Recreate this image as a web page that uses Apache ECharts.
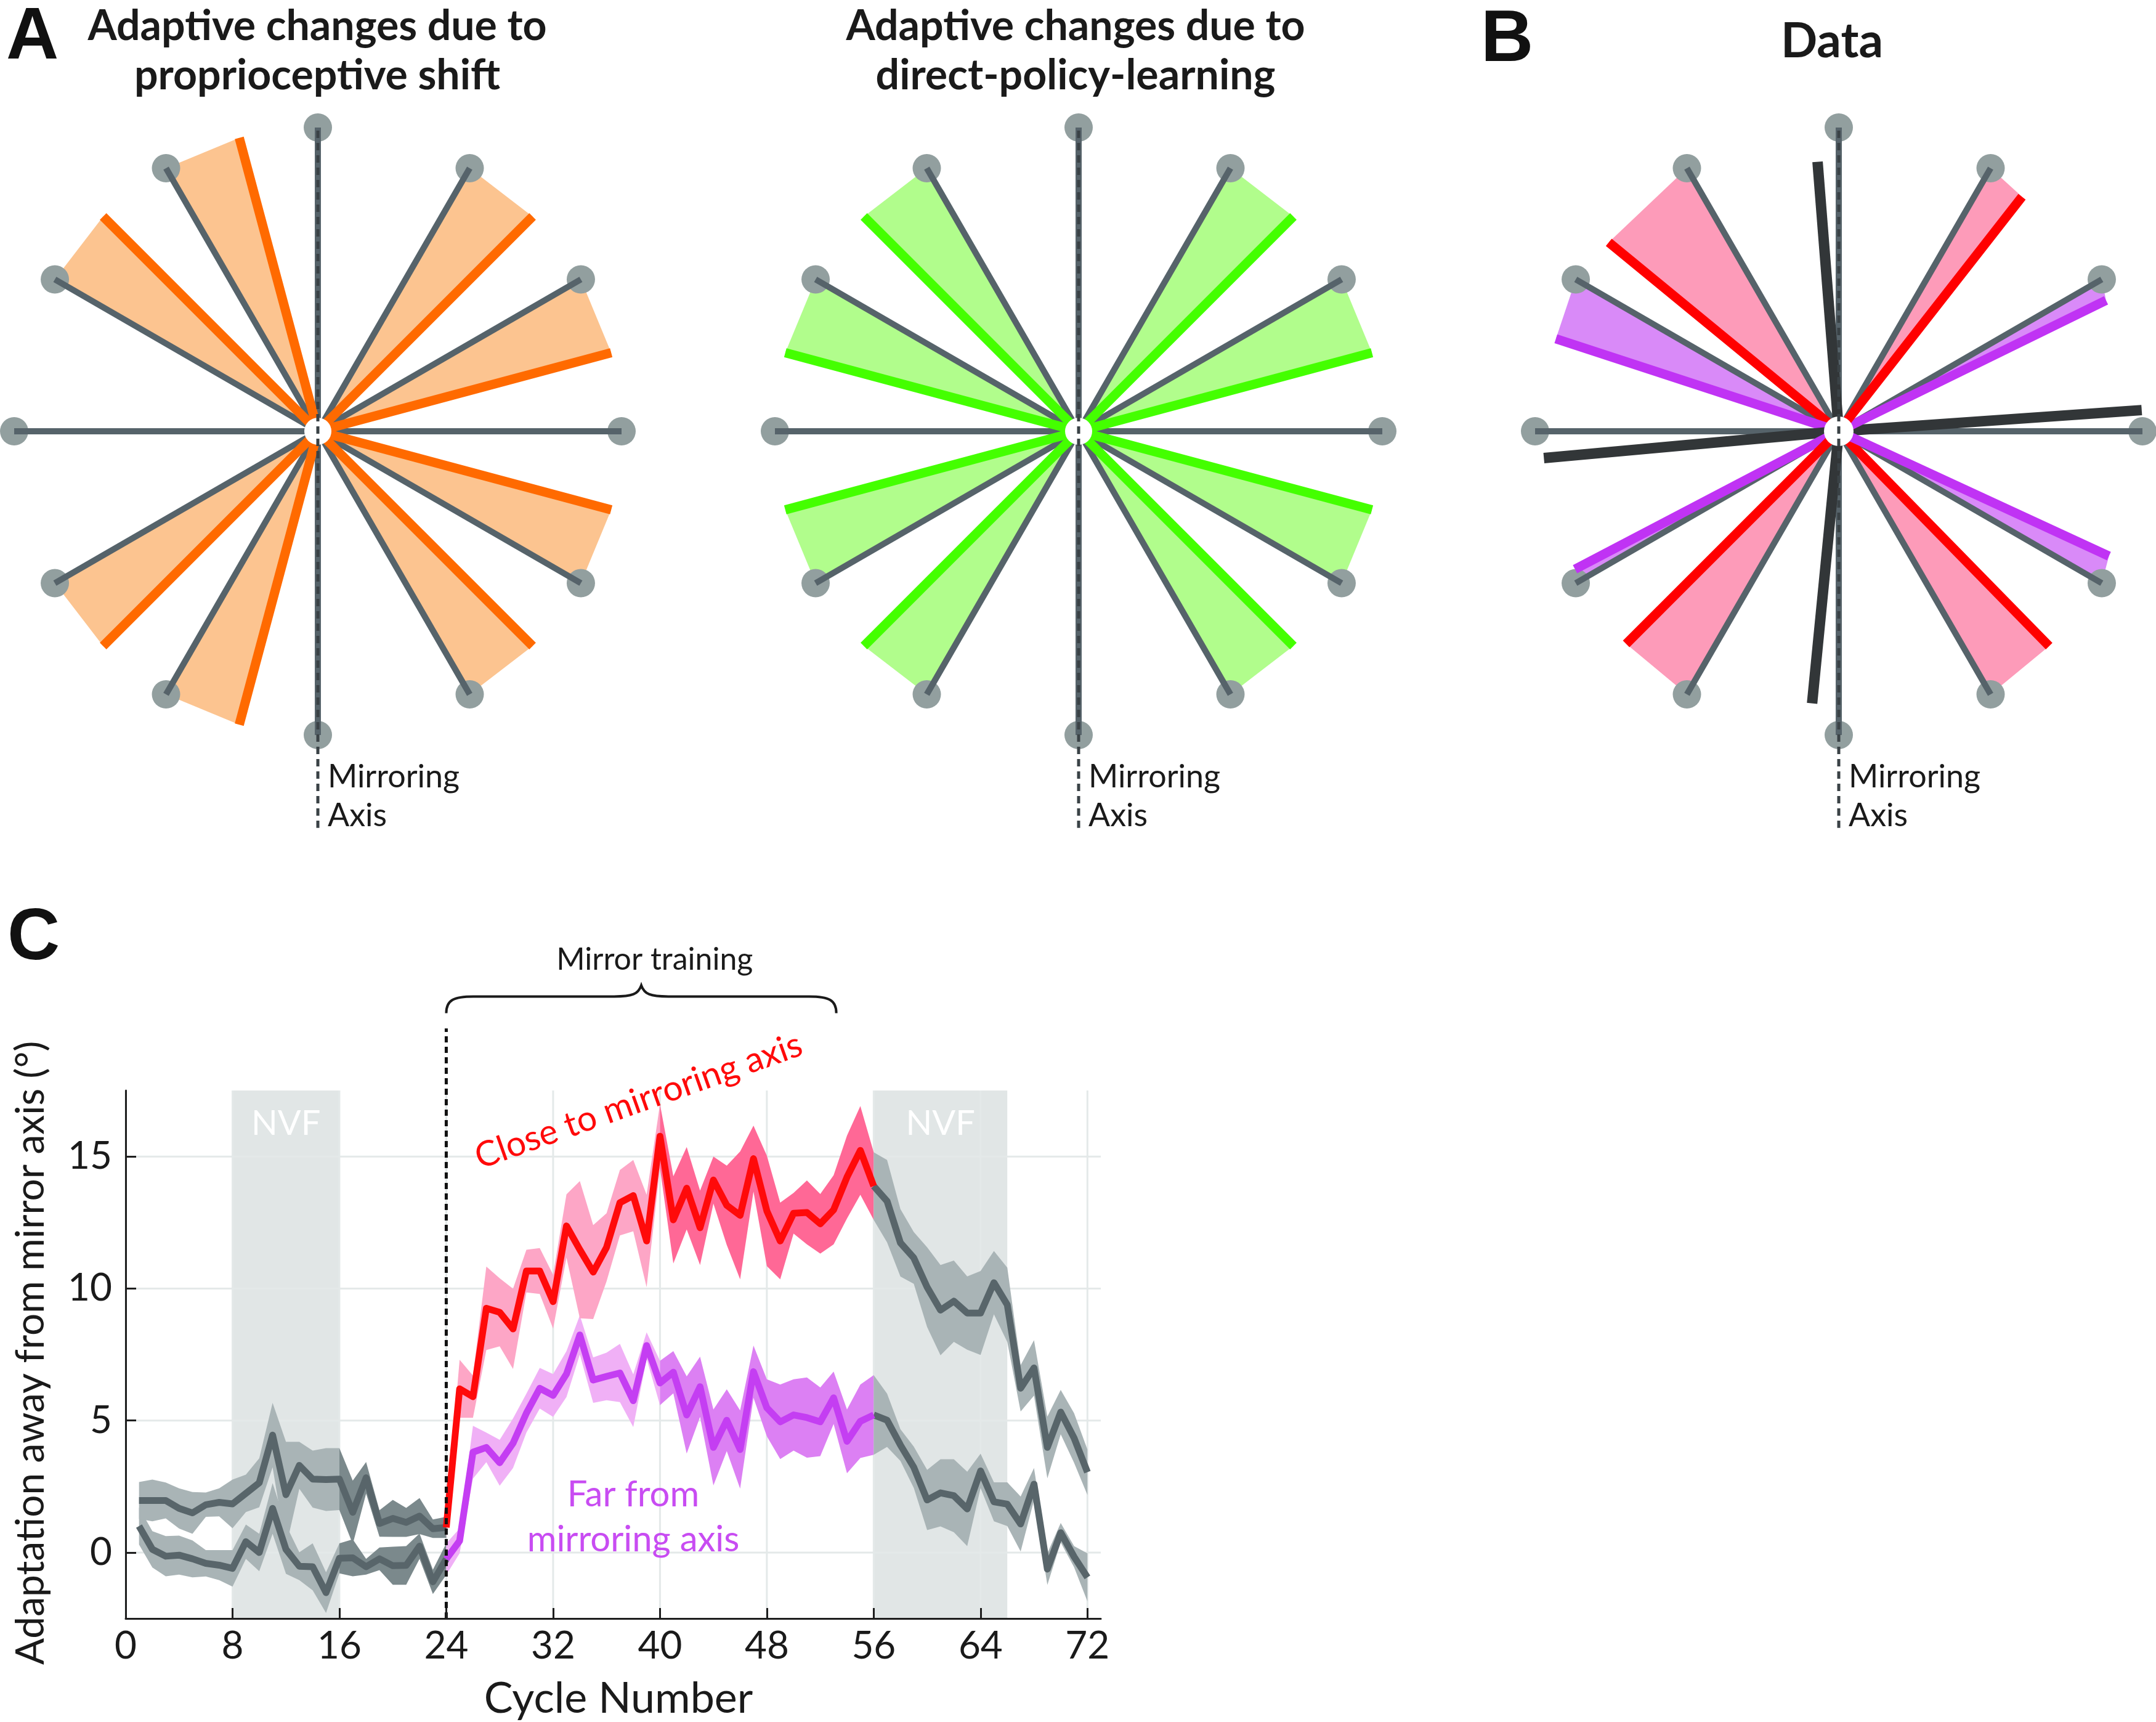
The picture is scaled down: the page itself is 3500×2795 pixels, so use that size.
<!DOCTYPE html>
<html>
<head>
<meta charset="utf-8">
<script src="https://cdn.jsdelivr.net/npm/echarts@6/dist/echarts.min.js"></script>
<style>
html,body{margin:0;padding:0;background:#ffffff;}
#chart{width:3500px;height:2795px;}
</style>
</head>
<body>
<div id="chart"></div>
<script>
// ---------------- DATA ----------------
// Panels A/B: target directions (deg) and adapted directions
const targetAngles = [0, 30, 60, 90, 120, 150, 180, 210, 240, 270, 300, 330];
// A (left): adaptive changes due to proprioceptive shift
const proprioAngles = [null, 15, 45, null, 105, 135, null, 225, 255, null, 315, 345];
// A (right): adaptive changes due to direct-policy-learning
const policyAngles = [null, 15, 45, null, 135, 165, null, 195, 225, null, 315, 345];
// B: measured data
const dataAngles = [4.0, 26.1, 52.0, 94.5, 140.6, 161.9, 185.2, 207.6, 225.0, 264.4, 314.4, 335.2];
const dataRadii  = [1.0, 0.98, 0.98, 0.89, 0.98, 0.98, 0.975, 0.98, 0.99, 0.90, 0.99, 0.98];
const dataGroups = ['on', 'far', 'close', 'on', 'close', 'far', 'on', 'far', 'close', 'on', 'close', 'far'];

// Panel C
const cycles = [1,2,3,4,5,6,7,8,9,10,11,12,13,14,15,16,17,18,19,20,21,22,23,24,
  25,26,27,28,29,30,31,32,33,34,35,36,37,38,39,40,41,42,43,44,45,46,47,48,
  49,50,51,52,53,54,55,56,57,58,59,60,61,62,63,64,65,66,67,68,69,70,71,72];
const closeMean = [1.97,1.97,1.97,1.67,1.50,1.81,1.90,1.84,2.24,2.64,4.45,2.19,3.30,2.78,2.76,2.78,1.52,2.83,1.10,1.29,1.14,1.38,0.90,0.95,
  6.20,5.90,9.25,9.10,8.47,10.66,10.66,9.50,12.37,11.47,10.62,11.56,13.25,13.52,11.80,15.77,12.60,13.80,12.30,
  14.11,13.15,12.77,14.92,12.94,11.80,12.85,12.88,12.45,12.98,14.22,15.23,13.88,
  13.31,11.73,11.16,10.05,9.18,9.52,9.07,9.07,10.22,9.38,6.22,6.99,3.98,5.32,4.34,3.04];
const closeErr = [0.70,0.79,0.68,0.76,0.79,0.46,0.53,0.92,0.71,0.93,1.22,2.00,0.89,1.08,1.19,1.17,1.20,0.60,0.50,0.70,0.55,0.68,0.35,0.40,
  1.10,0.80,1.58,1.29,1.52,0.81,0.87,1.02,1.20,2.60,1.78,1.29,1.24,1.35,1.75,1.21,1.65,1.56,1.41,
  0.89,1.50,2.42,1.25,2.09,1.45,0.77,1.21,1.13,1.31,1.57,1.68,1.28,
  1.56,1.28,0.98,1.51,1.71,1.54,1.39,1.59,1.20,1.41,0.88,1.05,1.17,0.84,0.94,0.86];
const farMean = [1.00,0.12,-0.14,-0.10,-0.24,-0.41,-0.48,-0.60,0.41,0.00,1.67,0.12,-0.52,-0.54,-1.52,-0.22,-0.20,-0.54,-0.24,-0.50,-0.49,0.24,-1.11,-0.25,
  0.44,3.80,3.98,3.40,4.14,5.28,6.22,5.95,6.76,8.24,6.53,6.67,6.80,5.75,7.84,6.42,6.83,5.21,6.28,
  3.98,5.01,3.90,6.85,5.48,4.95,5.21,5.11,4.95,5.86,4.21,4.97,5.21,
  5.01,4.07,3.23,1.99,2.26,2.15,1.65,3.09,1.92,1.83,1.08,2.59,-0.63,0.75,-0.16,-0.94];
const farErr = [0.70,0.69,0.76,0.74,0.70,0.50,0.57,0.69,0.65,0.71,0.96,0.93,0.53,0.89,0.77,0.57,0.70,0.30,0.43,0.72,0.73,0.48,0.46,0.60,
  0.47,1.00,0.56,0.87,0.94,0.74,0.77,0.81,0.87,0.74,0.86,0.90,1.10,1.00,0.50,0.84,0.80,1.46,1.14,
  1.44,1.17,1.48,0.99,1.08,1.41,1.35,1.52,1.30,0.99,1.21,1.39,1.51,
  1.01,0.60,0.78,1.14,1.27,1.38,1.41,0.65,0.74,0.83,1.04,0.61,0.60,0.37,0.40,0.91];
const xTicks = [0, 8, 16, 24, 32, 40, 48, 56, 64, 72];
const yTicks = [0, 5, 10, 15];
const nvfPeriods = [[8, 16], [56, 66]];
const baselineCycles = [1, 24];
const mirrorCycles = [24, 56];
const washoutCycles = [56, 72];
// band segments: [from, to, shade] (shade 0 = light, 1 = dark)
const bandSegments = [[1, 16, 0], [16, 24, 1], [24, 40, 0], [40, 56, 1], [56, 72, 0]];

// ---------------- STYLE ----------------
const SANS = "Lato, 'Open Sans', 'Noto Sans', sans-serif";
const HEAD = "'Liberation Sans', Arial, sans-serif";
const R = 493;
const PANEL_CENTERS = [[516, 700], [1751, 700], [2985, 700]];
const DOT = '#929f9f', SPOKE = '#56636a';

const panelStyles = [
  { fills: ['#fcc490'], lines: ['#ff6a00'], widths: [15] },
  { fills: ['#b1fd8c'], lines: ['#44ff00'], widths: [15] },
  { fills: ['#fd9bb9', '#d98af8', null], lines: ['#ff0000', '#c033f4', '#323638'], widths: [15, 15, 17] }
];
const groupIndex = { close: 0, far: 1, on: 2 };

function panelRows(p) {
  const rows = [];
  targetAngles.forEach((t, i) => {
    if (p === 0 && proprioAngles[i] != null) rows.push([t, proprioAngles[i], 1, 0]);
    if (p === 1 && policyAngles[i] != null) rows.push([t, policyAngles[i], 1, 0]);
    if (p === 2) rows.push([t, dataAngles[i], dataRadii[i], groupIndex[dataGroups[i]]]);
  });
  return rows;
}
function polar(api, deg, r) {
  const a = deg * Math.PI / 180;
  return api.coord([r * Math.cos(a), r * Math.sin(a)]);
}

const grids = PANEL_CENTERS.map(([cx, cy]) => ({ left: cx - R, top: cy - R, width: 2 * R, height: 2 * R, outerBoundsMode: 'none' }))
  .concat([{ left: 204, top: 1770, width: 1583, height: 857, outerBoundsMode: 'none' }]);

const hiddenAxis = (i) => ({ type: 'value', gridIndex: i, min: -1, max: 1, show: false });
const AX = '#1e1e1e';
const xAxes = [hiddenAxis(0), hiddenAxis(1), hiddenAxis(2), {
  type: 'value', gridIndex: 3, min: 0, max: 73, interval: 8, z: 10,
  axisLine: { show: true, onZero: false, lineStyle: { color: AX, width: 3 } },
  axisTick: { show: true, inside: true, length: 17, customValues: xTicks, lineStyle: { color: AX, width: 3 } },
  axisLabel: { customValues: xTicks, margin: 45, verticalAlign: 'middle', fontSize: 62, fontFamily: SANS, color: '#1a1a1a',
    formatter: v => (v % 8 === 0 ? String(v) : '') },
  splitLine: { show: false }
}];
const yAxes = [hiddenAxis(0), hiddenAxis(1), hiddenAxis(2), {
  type: 'value', gridIndex: 3, min: -2.5, max: 17.5, z: 10,
  axisLine: { show: true, onZero: false, lineStyle: { color: AX, width: 3 } },
  axisTick: { show: true, inside: true, length: 17, customValues: yTicks, lineStyle: { color: AX, width: 3 } },
  axisLabel: { customValues: yTicks, margin: 22, fontSize: 62, fontFamily: SANS, color: '#1a1a1a',
    formatter: v => (v % 5 === 0 ? String(v) : '') },
  splitLine: { show: false }
}];

const series = [];

// ---------- radial panels ----------
[0, 1, 2].forEach(p => {
  const st = panelStyles[p];
  const rows = panelRows(p);
  const base = { xAxisIndex: p, yAxisIndex: p, coordinateSystem: 'cartesian2d', silent: true, clip: false, type: 'custom' };
  // wedges
  series.push(Object.assign({}, base, {
    z: 1, data: rows,
    renderItem: (params, api) => {
      const fill = st.fills[api.value(3)];
      if (!fill) return null;
      return { type: 'polygon', shape: { points: [api.coord([0, 0]), polar(api, api.value(0), 1), polar(api, api.value(1), api.value(2))] },
        style: { fill: fill } };
    }
  }));
  // target dots
  series.push(Object.assign({}, base, {
    z: 2, data: targetAngles.map(t => [t]),
    renderItem: (params, api) => {
      const e = polar(api, api.value(0), 1);
      return { type: 'circle', shape: { cx: e[0], cy: e[1], r: 23 }, style: { fill: DOT } };
    }
  }));
  // target spokes
  series.push(Object.assign({}, base, {
    z: 3, data: targetAngles.map(t => [t]),
    renderItem: (params, api) => {
      const c = api.coord([0, 0]), e = polar(api, api.value(0), 1);
      return { type: 'line', shape: { x1: c[0], y1: c[1], x2: e[0], y2: e[1] }, style: { stroke: SPOKE, lineWidth: 10 } };
    }
  }));
  // adapted directions
  series.push(Object.assign({}, base, {
    z: 4, data: rows,
    renderItem: (params, api) => {
      const g = api.value(3);
      const c = api.coord([0, 0]), e = polar(api, api.value(1), api.value(2));
      return { type: 'line', shape: { x1: c[0], y1: c[1], x2: e[0], y2: e[1] }, style: { stroke: st.lines[g], lineWidth: st.widths[g] } };
    }
  }));
  // centre
  series.push(Object.assign({}, base, {
    z: 5, data: [[0, 0]],
    renderItem: (params, api) => {
      const c = api.coord([0, 0]);
      return { type: 'circle', shape: { cx: c[0], cy: c[1], r: p === 2 ? 24 : 22 }, style: { fill: '#ffffff' } };
    }
  }));
  // mirroring axis + label
  series.push(Object.assign({}, base, {
    z: 6, data: [[0, 0]],
    renderItem: (params, api) => {
      const top = api.coord([0, 0.99]), bot = api.coord([0, -1.306]), ref = api.coord([0, -1]);
      return { type: 'group', children: [
        { type: 'line', shape: { x1: top[0], y1: top[1], x2: bot[0], y2: bot[1] }, style: { stroke: '#3a4246', lineWidth: 5, lineDash: [12, 8] } },
        { type: 'text', x: ref[0] + 16, y: ref[1] + 68, style: { text: 'Mirroring', fontSize: 52, fontFamily: SANS, fill: '#1a1a1a', align: 'left', verticalAlign: 'middle', textAlign: 'left', textVerticalAlign: 'middle' } },
        { type: 'text', x: ref[0] + 16, y: ref[1] + 131, style: { text: 'Axis', fontSize: 52, fontFamily: SANS, fill: '#1a1a1a', align: 'left', verticalAlign: 'middle', textAlign: 'left', textVerticalAlign: 'middle' } }
      ] };
    }
  }));
});

// ---------- panel C ----------
const cBase = { xAxisIndex: 3, yAxisIndex: 3, coordinateSystem: 'cartesian2d', silent: true };
// NVF periods
series.push(Object.assign({}, cBase, {
  type: 'custom', z: 1, clip: false, data: nvfPeriods,
  renderItem: (params, api) => {
    const a = api.coord([api.value(0), 17.5]), b = api.coord([api.value(1), -2.5]);
    const t = api.coord([(api.value(0) + api.value(1)) / 2, 16.25]);
    return { type: 'group', children: [
      { type: 'rect', shape: { x: a[0], y: a[1], width: b[0] - a[0], height: b[1] - a[1] }, style: { fill: '#e1e6e6' } },
      { type: 'text', x: t[0], y: t[1], style: { text: 'NVF', fontSize: 56, fontFamily: SANS, fill: '#ffffff', align: 'center', verticalAlign: 'middle', textAlign: 'center', textVerticalAlign: 'middle' } }
    ] };
  }
}));
// grid lines
series.push(Object.assign({}, cBase, {
  type: 'custom', z: 2, data: xTicks.map(v => [v]),
  renderItem: (params, api) => {
    const a = api.coord([api.value(0), -2.5]), b = api.coord([api.value(0), 17.5]);
    return { type: 'line', shape: { x1: a[0], y1: a[1], x2: b[0], y2: b[1] }, style: { stroke: '#e4e9e9', lineWidth: 3 } };
  }
}));
series.push(Object.assign({}, cBase, {
  type: 'custom', z: 2, data: yTicks.map(v => [0, v]),
  renderItem: (params, api) => {
    const a = api.coord([0, api.value(1)]), b = api.coord([73, api.value(1)]);
    return { type: 'line', shape: { x1: a[0], y1: a[1], x2: b[0], y2: b[1] }, style: { stroke: '#e4e9e9', lineWidth: 3 } };
  }
}));
// bands
function bandColor(which, from, shade) {
  const inMirror = from >= mirrorCycles[0] && from < mirrorCycles[1];
  if (!inMirror) return shade ? '#7b898c' : '#a9b4b6';
  if (which === 'close') return shade ? '#ff6896' : '#fda6c6';
  return shade ? '#dc80f3' : '#f0b0f6';
}
function bandSeries(which, mean, err) {
  return Object.assign({}, cBase, {
    type: 'custom', z: 3, clip: false, data: bandSegments,
    renderItem: (params, api) => {
      const from = api.value(0), to = api.value(1), shade = api.value(2);
      const up = [], lo = [];
      for (let k = 0; k < cycles.length; k++) {
        const c = cycles[k];
        if (c < from || c > to) continue;
        up.push(api.coord([c, mean[k] + err[k]]));
        lo.push(api.coord([c, mean[k] - err[k]]));
      }
      return { type: 'polygon', shape: { points: up.concat(lo.reverse()) }, style: { fill: bandColor(which, from, shade) } };
    }
  });
}
series.push(bandSeries('far', farMean, farErr));
series.push(bandSeries('close', closeMean, closeErr));
// mean lines
function seg(mean, range) {
  const out = [];
  cycles.forEach((c, k) => { if (c >= range[0] && c <= range[1]) out.push([c, mean[k]]); });
  return out;
}
function lineSeries(name, data, color, z) {
  return Object.assign({}, cBase, {
    type: 'line', name: name, z: z, data: data, showSymbol: false, symbol: 'none',
    lineStyle: { color: color, width: 11, join: 'round', cap: 'butt' }
  });
}
const GRAY = '#58656a';
series.push(lineSeries('far baseline', seg(farMean, baselineCycles), GRAY, 4));
series.push(lineSeries('close baseline', seg(closeMean, baselineCycles), GRAY, 4));
series.push(lineSeries('far washout', seg(farMean, washoutCycles), GRAY, 4));
series.push(lineSeries('close washout', seg(closeMean, washoutCycles), GRAY, 4));
series.push(lineSeries('Far from mirroring axis', seg(farMean, mirrorCycles), '#c43ef2', 5));
series.push(lineSeries('Close to mirroring axis', seg(closeMean, mirrorCycles), '#ff0a0a', 5));
// annotations: dotted onset line, brace, labels
series.push(Object.assign({}, cBase, {
  type: 'custom', z: 6, clip: false, data: [[mirrorCycles[0], 0]],
  renderItem: (params, api) => {
    const x0 = mirrorCycles[0];
    const a = api.coord([x0, -2.5]), b = api.coord([x0, 19.85]);
    const xL = api.coord([x0, 0])[0], xR = api.coord([53.2, 0])[0], xT = api.coord([38.6, 0])[0];
    const yE = api.coord([0, 20.43])[1], yM = api.coord([0, 21.06])[1], yT = api.coord([0, 21.48])[1];
    const q = 44;
    const d = 'M' + xL + ' ' + yE + ' C' + xL + ' ' + (yM + 6) + ' ' + (xL + 12) + ' ' + yM + ' ' + (xL + q) + ' ' + yM +
      ' L' + (xT - q) + ' ' + yM + ' C' + (xT - 14) + ' ' + yM + ' ' + (xT - 5) + ' ' + (yM - 4) + ' ' + xT + ' ' + yT +
      ' C' + (xT + 5) + ' ' + (yM - 4) + ' ' + (xT + 14) + ' ' + yM + ' ' + (xT + q) + ' ' + yM +
      ' L' + (xR - q) + ' ' + yM + ' C' + (xR - 12) + ' ' + yM + ' ' + xR + ' ' + (yM + 6) + ' ' + xR + ' ' + yE;
    const mt = api.coord([39.6, 22.46]);
    const ct = api.coord([38.4, 17.1]);
    const f1 = api.coord([38.0, 2.19]), f2 = api.coord([38.0, 0.47]);
    const T = (x, y, text, size, fill, rot) => ({ type: 'text', x: x, y: y, rotation: rot || 0,
      style: { text: text, fontSize: size, fontFamily: SANS, fill: fill, align: 'center', verticalAlign: 'middle', textAlign: 'center', textVerticalAlign: 'middle' } });
    return { type: 'group', children: [
      { type: 'line', shape: { x1: a[0], y1: a[1], x2: b[0], y2: b[1] }, style: { stroke: '#111111', lineWidth: 5, lineDash: [10, 7] } },
      { type: 'path', shape: { pathData: d }, style: { stroke: '#1a1a1a', lineWidth: 4, fill: null } },
      T(mt[0], mt[1], 'Mirror training', 50, '#1a1a1a'),
      T(ct[0], ct[1], 'Close to mirroring axis', 57, '#ff0a0a', 19.5 * Math.PI / 180),
      T(f1[0], f1[1], 'Far from', 58, '#c84cf2'),
      T(f2[0], f2[1], 'mirroring axis', 58, '#c84cf2')
    ] };
  }
}));

// ---------------- texts ----------------
function txt(text, x, y, size, opts) {
  opts = opts || {};
  return { type: 'text', x: x, y: y, rotation: opts.rotation || 0, z: 100,
    style: { text: text, fontSize: size, fontFamily: opts.family || SANS, fontWeight: opts.weight || 'normal',
      fill: opts.fill || '#1a1a1a', align: opts.align || 'center', verticalAlign: 'middle',
      textAlign: opts.align || 'center', textVerticalAlign: 'middle' } };
}
const graphic = [
  txt('A', 10, 62, 118, { family: HEAD, weight: 'bold', align: 'left', fill: '#111' }),
  txt('B', 2404, 66, 118, { family: HEAD, weight: 'bold', align: 'left', fill: '#111' }),
  txt('C', 12, 1524, 118, { family: HEAD, weight: 'bold', align: 'left', fill: '#111' }),
  txt('Adaptive changes due to', 515, 43, 68, { weight: 'bold' }),
  txt('proprioceptive shift', 515, 123, 68, { weight: 'bold' }),
  txt('Adaptive changes due to', 1746, 43, 68, { weight: 'bold' }),
  txt('direct-policy-learning', 1746, 123, 68, { weight: 'bold' }),
  txt('Data', 2974, 68, 78, { weight: 'bold' }),
  txt('Adaptation away from mirror axis (°)', 50, 2196, 64, { rotation: Math.PI / 2 }),
  txt('Cycle Number', 1004, 2757, 70)
];

const chart = echarts.init(document.getElementById('chart'), null, { renderer: 'canvas', width: 3500, height: 2795 });
chart.setOption({
  backgroundColor: '#ffffff',
  animation: false,
  grid: grids,
  xAxis: xAxes,
  yAxis: yAxes,
  series: series,
  graphic: graphic
});
</script>
</body>
</html>
